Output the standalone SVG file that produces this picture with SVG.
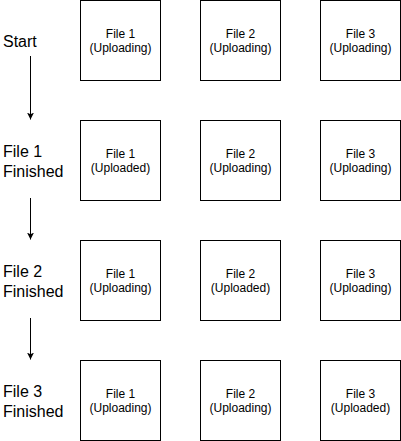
<svg xmlns="http://www.w3.org/2000/svg" width="401" height="441" viewBox="0 0 401 441">
<defs>
<marker id="arr" markerWidth="8" markerHeight="8" refX="7" refY="3.5" orient="auto" markerUnits="userSpaceOnUse">
<path d="M0,0 L7,3.5 L0,7 L1.8,3.5 Z" fill="#000"/>
</marker>
<style>
.box{fill:#fff;stroke:#000;stroke-width:1}
.bt{font-family:"Liberation Sans",Arial,sans-serif;font-size:12px;fill:#000;text-anchor:middle}
.lbl{font-family:"Liberation Sans",Arial,sans-serif;font-size:16px;fill:#000}
.conn{stroke:#000;stroke-width:1;fill:none}
</style>
</defs>
<rect width="401" height="441" fill="#fff"/>
<g id="labels">
<g id="label-start"><text class="lbl" x="3" y="46.5">Start</text></g>
<g id="label-f1"><text class="lbl" x="3" y="156.5">File 1</text><text class="lbl" x="3" y="176.5">Finished</text></g>
<g id="label-f2"><text class="lbl" x="3" y="276.5">File 2</text><text class="lbl" x="3" y="296.5">Finished</text></g>
<g id="label-f3"><text class="lbl" x="3" y="396.5">File 3</text><text class="lbl" x="3" y="416.5">Finished</text></g>
</g>
<g id="connectors">
<line class="conn" x1="30.5" y1="56" x2="30.5" y2="119.5" marker-end="url(#arr)"/>
<line class="conn" x1="30.5" y1="198" x2="30.5" y2="239.5" marker-end="url(#arr)"/>
<line class="conn" x1="30.5" y1="318" x2="30.5" y2="359.5" marker-end="url(#arr)"/>
</g>
<g id="r1c1"><rect class="box" x="80.5" y="0.5" width="80" height="80"/><text class="bt" x="120.5" y="38">File 1</text><text class="bt" x="120.5" y="52">(Uploading)</text></g>
<g id="r1c2"><rect class="box" x="200.5" y="0.5" width="80" height="80"/><text class="bt" x="240.5" y="38">File 2</text><text class="bt" x="240.5" y="52">(Uploading)</text></g>
<g id="r1c3"><rect class="box" x="320.5" y="0.5" width="80" height="80"/><text class="bt" x="360.5" y="38">File 3</text><text class="bt" x="360.5" y="52">(Uploading)</text></g>
<g id="r2c1"><rect class="box" x="80.5" y="120.5" width="80" height="80"/><text class="bt" x="120.5" y="158">File 1</text><text class="bt" x="120.5" y="172">(Uploaded)</text></g>
<g id="r2c2"><rect class="box" x="200.5" y="120.5" width="80" height="80"/><text class="bt" x="240.5" y="158">File 2</text><text class="bt" x="240.5" y="172">(Uploading)</text></g>
<g id="r2c3"><rect class="box" x="320.5" y="120.5" width="80" height="80"/><text class="bt" x="360.5" y="158">File 3</text><text class="bt" x="360.5" y="172">(Uploading)</text></g>
<g id="r3c1"><rect class="box" x="80.5" y="240.5" width="80" height="80"/><text class="bt" x="120.5" y="278">File 1</text><text class="bt" x="120.5" y="292">(Uploading)</text></g>
<g id="r3c2"><rect class="box" x="200.5" y="240.5" width="80" height="80"/><text class="bt" x="240.5" y="278">File 2</text><text class="bt" x="240.5" y="292">(Uploaded)</text></g>
<g id="r3c3"><rect class="box" x="320.5" y="240.5" width="80" height="80"/><text class="bt" x="360.5" y="278">File 3</text><text class="bt" x="360.5" y="292">(Uploading)</text></g>
<g id="r4c1"><rect class="box" x="80.5" y="360.5" width="80" height="80"/><text class="bt" x="120.5" y="398">File 1</text><text class="bt" x="120.5" y="412">(Uploading)</text></g>
<g id="r4c2"><rect class="box" x="200.5" y="360.5" width="80" height="80"/><text class="bt" x="240.5" y="398">File 2</text><text class="bt" x="240.5" y="412">(Uploading)</text></g>
<g id="r4c3"><rect class="box" x="320.5" y="360.5" width="80" height="80"/><text class="bt" x="360.5" y="398">File 3</text><text class="bt" x="360.5" y="412">(Uploaded)</text></g>
</svg>
